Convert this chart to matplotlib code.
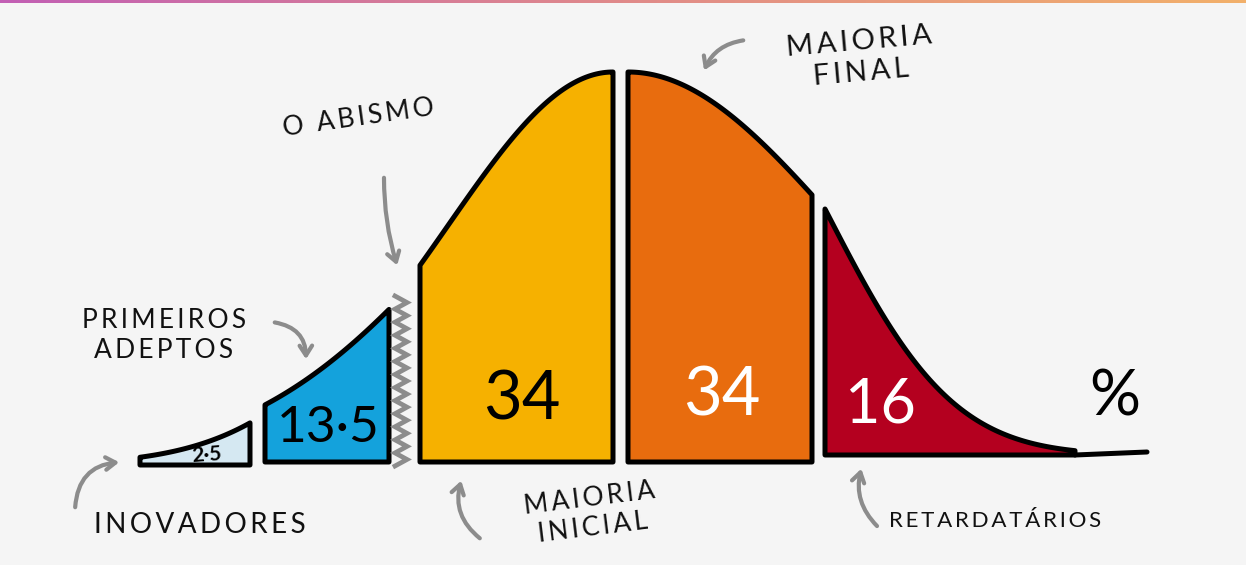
import numpy as np
import matplotlib
matplotlib.use('Agg')
import matplotlib.pyplot as plt
from matplotlib.patches import FancyArrowPatch

# adopter groups (Rogers), share of population in %
groups = ['INOVADORES', 'PRIMEIROS\nADEPTOS', 'MAIORIA\nINICIAL', 'MAIORIA\nFINAL', 'RETARDATÁRIOS']
shares = [2.5, 13.5, 34, 34, 16]
share_labels = ['2·5', '13·5', '34', '34', '16']
colors = ['#d5e8f2', '#14a2dc', '#f6b100', '#e86c0e', '#b4001f']
number_colors = ['black', 'black', 'black', 'white', 'white']
# part of the bell (in standard deviations) covered by each drawn block
sd_from = [-2.8, -1.96, -1.17, 0.0, 0.96]
sd_to = [-2.11, -1.37, 0.0, 0.87, 3.0]

# layout of the sketch (pixel canvas)
W, H = 1246, 565
x_left = [140, 265, 420, 628, 825]
x_right = [250, 389, 613, 812, 1075]
base_y = [465, 462, 462, 462, 455]
peak_h = 390
grey = '#8c8c8c'


def spaced(s):
    # a little letter spacing, like the wide hand-lettering of the original
    return '\n'.join('\u2009'.join(line) for line in s.split('\n'))


fig = plt.figure(figsize=(W / 100, H / 100), dpi=100)
fig.patch.set_facecolor('#f5f5f5')
ax = fig.add_axes([0, 0, 1, 1])
ax.set_xlim(0, W)
ax.set_ylim(H, 0)
ax.axis('off')

# thin gradient strip along the top edge
grad = np.linspace(0, 1, 256).reshape(1, -1)
cmap = matplotlib.colors.LinearSegmentedColormap.from_list('top', ['#c25fb4', '#e08a8a', '#f2b06a'])
ax.imshow(grad, extent=[0, W, 3, 0], aspect='auto', cmap=cmap, zorder=0)

for i in range(len(groups)):
    z = np.linspace(sd_from[i], sd_to[i], 80)
    xs = np.linspace(x_left[i], x_right[i], 80)
    ys = base_y[i] - peak_h * np.exp(-z ** 2 / 2)
    px = np.concatenate([[x_left[i]], xs, [x_right[i]]])
    py = np.concatenate([[base_y[i]], ys, [base_y[i]]])
    ax.fill(px, py, facecolor=colors[i], edgecolor='black', lw=3.6,
            joinstyle='round', zorder=3)

# tail of the curve runs out along the axis
ax.plot([x_right[4], 1147], [base_y[4], 452], color='black', lw=3.6,
        solid_capstyle='round', zorder=3)

# the chasm: a grey zigzag between early adopters and early majority
zy = np.linspace(296, 466, 27)
zx = 401 + np.where(np.arange(len(zy)) % 2 == 0, -6, 6)
ax.plot(zx, zy, color=grey, lw=3.4, solid_joinstyle='miter', zorder=3)

# numbers inside the blocks
num_pos = [(207, 455), (328, 428), (522, 400), (722, 397), (880, 405)]
num_size = [15, 37, 48, 48, 44]
for i, lab in enumerate(share_labels):
    ax.text(num_pos[i][0], num_pos[i][1], lab, fontsize=num_size[i],
            color=number_colors[i], ha='center', va='center',
            family='Lato', weight='bold' if i == 0 else 'normal',
            rotation=4 if i == 0 else 0, zorder=4)
ax.text(1115, 398, '%', fontsize=46, family='Lato', ha='center', va='center', zorder=4)

# group labels
lab_kw = dict(family=['Lato', 'DejaVu Sans'], color='#111111', ha='center',
              va='center', linespacing=1.25)
ax.text(200, 525, spaced(groups[0]), fontsize=20, **lab_kw)
ax.text(164, 335, spaced(groups[1]), fontsize=19, **lab_kw)
ax.text(591, 513, spaced(groups[2]), fontsize=19, rotation=7, **lab_kw)
ax.text(860, 57, spaced(groups[3]), fontsize=21, rotation=5, **lab_kw)
ax.text(995, 521, spaced(groups[4]), fontsize=16, **lab_kw)
ax.text(358, 118, spaced('O ABISMO'), fontsize=19, rotation=8, **lab_kw)

# curved grey pointers
arrows = [((75, 510), (122, 462), -0.45),
          ((272, 322), (306, 362), -0.45),
          ((384, 175), (398, 268), 0.08),
          ((482, 540), (462, 478), -0.35),
          ((746, 40), (703, 73), 0.3),
          ((879, 528), (862, 466), -0.3)]
for tail, head, rad in arrows:
    ax.add_patch(FancyArrowPatch(tail, head, connectionstyle=f'arc3,rad={rad}',
                                 arrowstyle='->,head_length=7,head_width=4.5',
                                 color=grey, lw=3, capstyle='round', zorder=2))

fig.savefig('out.png', dpi=100, facecolor=fig.get_facecolor())
